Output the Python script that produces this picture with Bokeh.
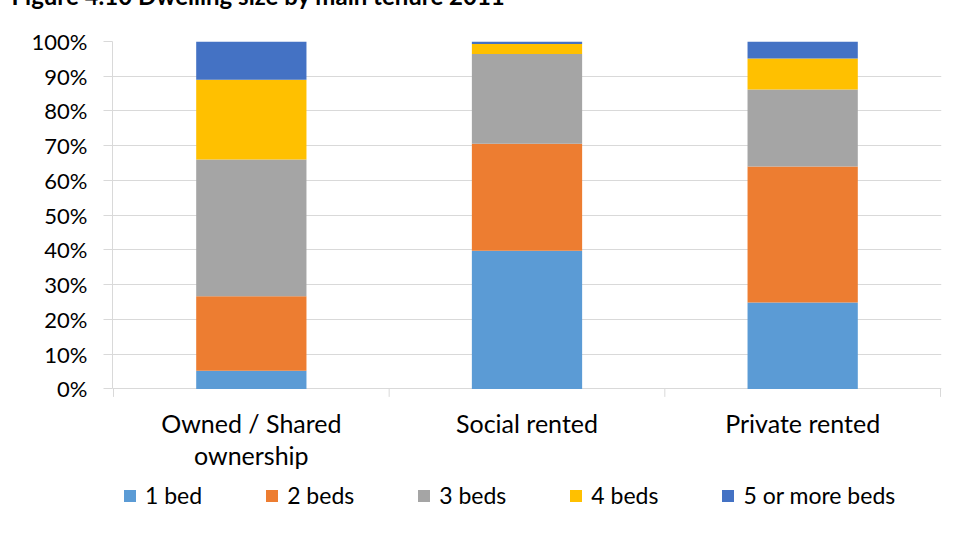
from bokeh.plotting import figure
from bokeh.models import (ColumnDataSource, FixedTicker, NumeralTickFormatter,
                          Legend, LegendItem, Range1d, LabelSet, Title)
from bokeh.core.properties import value
from bokeh.embed import file_html
from bokeh.resources import INLINE

title_text = "Figure 4.10 Dwelling size by main tenure 2011"
tenure_line1 = ["Owned / Shared", "Social rented", "Private rented"]
tenure_line2 = ["ownership", "", ""]
sizes = ["1 bed", "2 beds", "3 beds", "4 beds", "5 or more beds"]
one_bed = [5.2, 39.8, 24.9]
two_beds = [21.5, 30.8, 39.1]
three_beds = [39.3, 25.8, 22.2]
four_beds = [23.0, 2.9, 8.9]
five_plus = [11.0, 0.7, 4.9]
colors = ["#5B9BD5", "#ED7D31", "#A5A5A5", "#FFC000", "#4472C4"]
y_ticks = [0, 0.1, 0.2, 0.3, 0.4, 0.5, 0.6, 0.7, 0.8, 0.9, 1.0]

FONT = "Lato"
GRID = "#d9d9d9"

# ---- layout geometry (pixels) ----
W, H = 948, 588
B_LEFT, B_RIGHT, B_TOP, B_BOTTOM = 112, 7, 96, 10
PX_PER_UNIT = 347.4            # height of the 0..100% band
PX_PER_CAT = 276.0
frame_h = H - B_TOP - B_BOTTOM
y_min = 1 - frame_h / PX_PER_UNIT
x_pad = 1 / PX_PER_CAT

n = len(tenure_line1)
xs = [i + 0.5 for i in range(n)]
series = [one_bed, two_beds, three_beds, four_beds, five_plus]
data = {"x": xs}
for name, vals in zip(sizes, series):
    data[name] = [v / 100 for v in vals]
src = ColumnDataSource(data)

p = figure(width=W, height=H, output_backend="svg", toolbar_location=None,
           x_range=Range1d(-x_pad, n + x_pad), y_range=Range1d(y_min, 1),
           min_border_left=B_LEFT, min_border_right=B_RIGHT,
           min_border_top=B_TOP, min_border_bottom=B_BOTTOM)
p.margin = (-55, 0, 0, 0)
p.outline_line_color = None
p.background_fill_color = "white"
p.border_fill_color = "white"

p.title = Title(text=title_text, align="left", offset=-101, standoff=63,
                text_font=FONT, text_font_style="bold", text_font_size="24px",
                text_color="#000000")

renderers = p.vbar_stack(sizes, x="x", width=0.4, color=colors, source=src,
                         line_color=None)

# y axis
p.yaxis.ticker = FixedTicker(ticks=y_ticks)
p.yaxis.bounds = (0, 1)
p.yaxis.formatter = NumeralTickFormatter(format="0%")
p.yaxis.axis_line_color = GRID
p.yaxis.major_tick_line_color = GRID
p.yaxis.major_tick_out = 9
p.yaxis.major_tick_in = 0
p.yaxis.minor_tick_line_color = None
p.yaxis.major_label_text_font = FONT
p.yaxis.major_label_text_font_size = "22px"
p.yaxis.major_label_text_color = "#000000"
p.yaxis.major_label_standoff = 16

p.xaxis.visible = False
p.xgrid.grid_line_color = None
p.ygrid.grid_line_color = GRID
p.ygrid.ticker = FixedTicker(ticks=y_ticks)

# category separator ticks below the 0% line
tick_len = 8 / PX_PER_UNIT
seps = list(range(n + 1))
sep_src = ColumnDataSource(dict(x=seps, y0=[0] * len(seps), y1=[-tick_len] * len(seps)))
p.segment(x0="x", y0="y0", x1="x", y1="y1", source=sep_src,
          line_color=GRID, line_width=1)

# category labels (two lines)
line1_y = -19 / PX_PER_UNIT
line2_y = -51 / PX_PER_UNIT
for texts, ly in ((tenure_line1, line1_y), (tenure_line2, line2_y)):
    lsrc = ColumnDataSource(dict(x=xs, y=[ly] * n, text=texts))
    p.add_layout(LabelSet(x="x", y="y", text="text", source=lsrc,
                          text_align="center", text_baseline="top",
                          text_font=value(FONT), text_font_size=value("25px"),
                          text_color="#000000"))

legend = Legend(items=[LegendItem(label=s, renderers=[r]) for s, r in zip(sizes, renderers)],
                orientation="horizontal", location=(10, 14),
                glyph_width=15, glyph_height=15, label_standoff=8, spacing=62,
                label_text_font=FONT, label_text_font_size="23px",
                label_text_color="#000000",
                border_line_color=None, background_fill_alpha=0,
                padding=0, margin=0)
p.add_layout(legend, "center")

open("out.html", "w").write(file_html(p, INLINE))
